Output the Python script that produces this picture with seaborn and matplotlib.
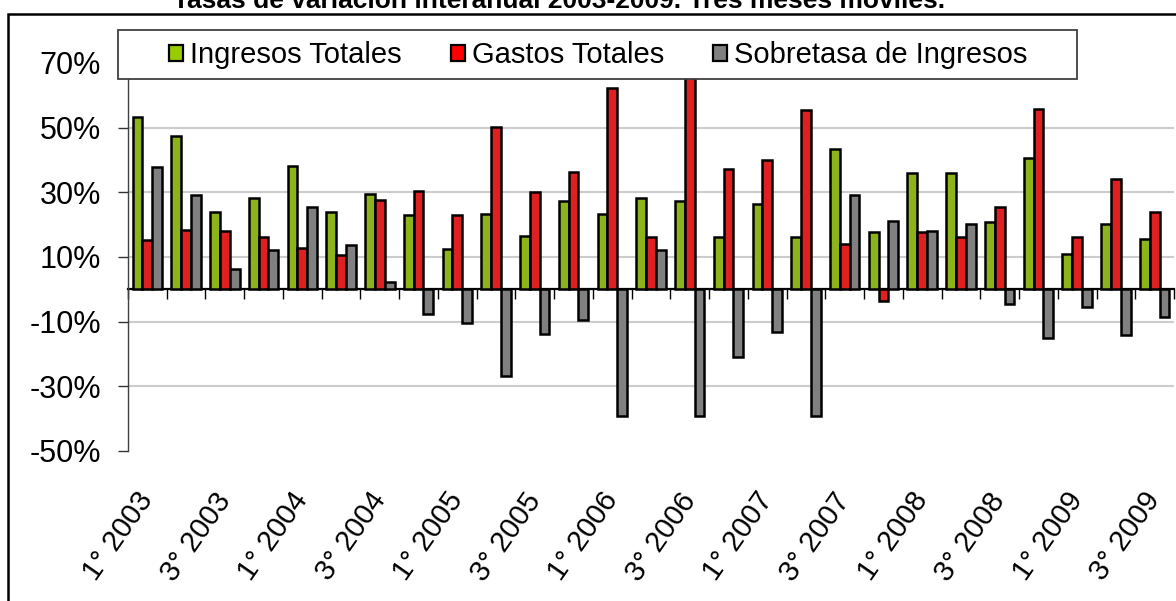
import numpy as np
import pandas as pd
import matplotlib.pyplot as plt
import seaborn as sns
from matplotlib.patches import Patch, Rectangle

# trimestres (tres meses moviles)
periodos = ["1° 2003", "2° 2003", "3° 2003", "4° 2003",
            "1° 2004", "2° 2004", "3° 2004", "4° 2004",
            "1° 2005", "2° 2005", "3° 2005", "4° 2005",
            "1° 2006", "2° 2006", "3° 2006", "4° 2006",
            "1° 2007", "2° 2007", "3° 2007", "4° 2007",
            "1° 2008", "2° 2008", "3° 2008", "4° 2008",
            "1° 2009", "2° 2009", "3° 2009"]
ingresos = [53.4, 47.4, 24.0, 28.4, 38.2, 24.0, 29.5, 22.9, 12.6, 23.3, 16.6, 27.2, 23.3, 28.4,
            27.2, 16.1, 26.5, 16.1, 43.5, 17.7, 35.9, 35.9, 20.9, 40.7, 10.9, 20.2, 15.7]
gastos = [15.2, 18.3, 18.1, 16.1, 12.9, 10.6, 27.6, 30.3, 22.9, 50.3, 30.0, 36.3, 62.4, 16.1,
          66.4, 37.2, 40.0, 55.4, 14.1, -3.5, 17.7, 16.1, 25.4, 55.8, 16.1, 34.0, 24.0]
sobretasa = [37.9, 29.2, 6.3, 12.2, 25.4, 13.7, 2.3, -7.7, -10.5, -26.9, -13.7, -9.4, -39.2, 12.2,
             -39.2, -20.9, -13.3, -39.2, 29.2, 21.2, 18.1, 20.2, -4.6, -15.0, -5.5, -14.2, -8.7]
series = ["Ingresos Totales", "Gastos Totales", "Sobretasa de Ingresos"]
colores = ["#99CC00", "#FF0000", "#808080"]
yticks = [-50, -30, -10, 10, 30, 50, 70]
titulo = "Tasas de variación interanual 2003-2009. Tres meses móviles."

df = pd.DataFrame({"periodo": periodos, series[0]: ingresos,
                   series[1]: gastos, series[2]: sobretasa})
df = df.melt(id_vars="periodo", var_name="serie", value_name="valor")

plt.rcParams['font.family'] = ['Liberation Sans', 'DejaVu Sans']

fig = plt.figure(figsize=(11.76, 6.01), dpi=100)
ax = fig.add_axes([128/1176, 1-451/601, (1174-128)/1176, (451-63)/601])

sns.barplot(data=df, x="periodo", y="valor", hue="serie", order=periodos, hue_order=series,
            palette=dict(zip(series, colores)), width=0.76, gap=0, edgecolor="black",
            linewidth=1.8, errorbar=None, legend=False, ax=ax)

ax.set_ylim(-50, 70)
ax.set_yticks(yticks)
ax.set_yticklabels([f"{v}%" for v in yticks], fontsize=22)
ax.tick_params(axis='y', length=7.5, width=1, color='#333333', pad=12)
ax.set_axisbelow(True)
ax.yaxis.grid(True, color='#cccccc', lw=1.5)
gl = ax.yaxis.get_gridlines()
gl[0].set_visible(False)
gl[-1].set_visible(False)

ax.set_xticks(range(0, len(periodos), 2))
ax.set_xticklabels(periodos[::2], rotation=55, ha='right', va='center',
                   rotation_mode='anchor', fontsize=21)
ax.tick_params(axis='x', length=0, pad=32)
ax.set_xlabel("")
ax.set_ylabel("")

for s in ['top', 'right', 'bottom']:
    ax.spines[s].set_visible(False)
ax.spines['left'].set_color('#404040')
ax.spines['left'].set_linewidth(1)

# eje de categorias en el cero
sec = ax.secondary_xaxis(50/120)
sec.set_xticks(np.arange(-0.5, len(periodos), 1))
sec.tick_params(direction='out', length=7, width=1, labelbottom=False, color='black')
sec.spines['bottom'].set_linewidth(1.6)
sec.spines['bottom'].set_color('black')

# leyenda con recuadro
fig.add_artist(Rectangle((118/1176, 1-79/601), (1077-118)/1176, 49/601, transform=fig.transFigure,
                         facecolor='white', edgecolor='#404040', lw=1.3, zorder=3))
handles = [Patch(facecolor=c, edgecolor='black', lw=1.6) for c in colores]
fig.legend(handles, series, loc='center left', bbox_to_anchor=(169/1176, 1-55/601), ncol=3,
           frameon=False, fontsize=21, handlelength=0.48, handleheight=0.48,
           handletextpad=0.24, columnspacing=1.68, borderpad=0, borderaxespad=0)

fig.text(559/1176, 1-8/601, titulo, ha='center', va='baseline', fontsize=19, fontweight='bold')
fig.add_artist(Rectangle((8/1176, -0.1), 1.2, 1-14/601+0.1, transform=fig.transFigure,
                         fill=False, edgecolor='black', lw=1.8))

fig.savefig('out.png', dpi=100)
